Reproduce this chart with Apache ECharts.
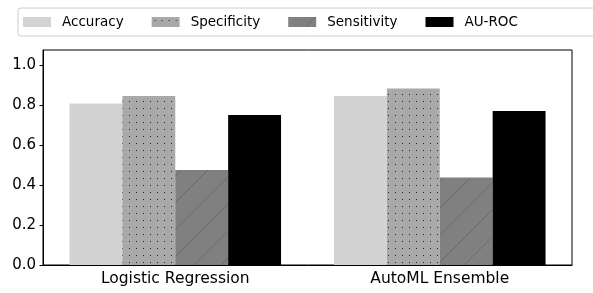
<!DOCTYPE html>
<html>
<head>
<meta charset="utf-8">
<script src="https://cdn.jsdelivr.net/npm/echarts@6/dist/echarts.min.js"></script>
<style>
  html, body { margin: 0; padding: 0; background: #fff; }
  #chart { width: 593px; height: 293px; }
</style>
</head>
<body>
<div id="chart"></div>
<script>
// models on the x axis
var models = ['Logistic Regression', 'AutoML Ensemble'];
var metricNames = ['Accuracy', 'Specificity', 'Sensitivity', 'AU-ROC'];

// metric values, one per model
var accuracy = [0.808, 0.845];
var specificity = [0.845, 0.883];
var sensitivity = [0.475, 0.437];
var auRoc = [0.75, 0.77];

var yTicks = [0, 0.2, 0.4, 0.6, 0.8, 1.0];

var FONT = 'DejaVu Sans';

// dotted fill (hatch '.')
function dotPattern() {
    var c = document.createElement('canvas');
    c.width = 7; c.height = 7;
    var g = c.getContext('2d');
    g.fillStyle = '#a9a9a9';
    g.fillRect(0, 0, 7, 7);
    g.fillStyle = '#222';
    g.fillRect(3, 3, 1, 1);
    return { image: c, repeat: 'repeat' };
}

// diagonal hatch (hatch '/')
function hatchPattern() {
    var s = 27;
    var c = document.createElement('canvas');
    c.width = s; c.height = s;
    var g = c.getContext('2d');
    g.fillStyle = '#808080';
    g.fillRect(0, 0, s, s);
    g.strokeStyle = '#666666';
    g.lineWidth = 0.8;
    g.beginPath();
    g.moveTo(-1, s + 1); g.lineTo(s + 1, -1);
    g.moveTo(-1, 1); g.lineTo(1, -1);
    g.moveTo(s - 1, s + 1); g.lineTo(s + 1, s - 1);
    g.stroke();
    return { image: c, repeat: 'repeat' };
}

var fills = ['#d3d3d3', dotPattern(), hatchPattern(), '#000000'];
var values = [accuracy, specificity, sensitivity, auRoc];

var chart = echarts.init(document.getElementById('chart'), null, { renderer: 'canvas' });

chart.setOption({
    animation: false,
    textStyle: { fontFamily: FONT },
    legend: {
        left: 18,
        top: 8,
        width: 700,
        padding: [7, 80, 7, 5],
        itemWidth: 28,
        itemHeight: 10,
        itemGap: 28,
        icon: 'rect',
        borderColor: '#cccccc',
        borderWidth: 1,
        borderRadius: 3,
        textStyle: { fontFamily: FONT, fontSize: 13.5, color: '#000', padding: [0, 0, 0, 6] },
        data: metricNames
    },
    grid: {
        left: 43,
        right: 21,
        top: 50,
        bottom: 28,
        show: true,
        borderColor: '#000',
        borderWidth: 1
    },
    xAxis: {
        type: 'category',
        data: models,
        boundaryGap: true,
        axisLine: { lineStyle: { color: '#000', width: 1 } },
        axisTick: { alignWithLabel: true, length: 3.5, lineStyle: { color: '#000' } },
        axisLabel: { fontFamily: FONT, fontSize: 15.5, color: '#000', margin: 6 }
    },
    yAxis: {
        type: 'value',
        min: 0,
        max: 1.075,
        interval: 0.2,
        splitLine: { show: false },
        axisLine: { show: true, lineStyle: { color: '#000', width: 1 } },
        axisTick: { show: true, length: 3.5, lineStyle: { color: '#000' }, customValues: yTicks },
        axisLabel: {
            fontFamily: FONT, fontSize: 15, color: '#000', margin: 7,
            customValues: yTicks,
            formatter: function (v) { return v.toFixed(1); }
        }
    },
    series: metricNames.map(function (name, i) {
        return {
            name: name,
            type: 'bar',
            data: values[i],
            barGap: '0%',
            barCategoryGap: '20%',
            itemStyle: { color: fills[i] }
        };
    })
});
</script>
</body>
</html>
